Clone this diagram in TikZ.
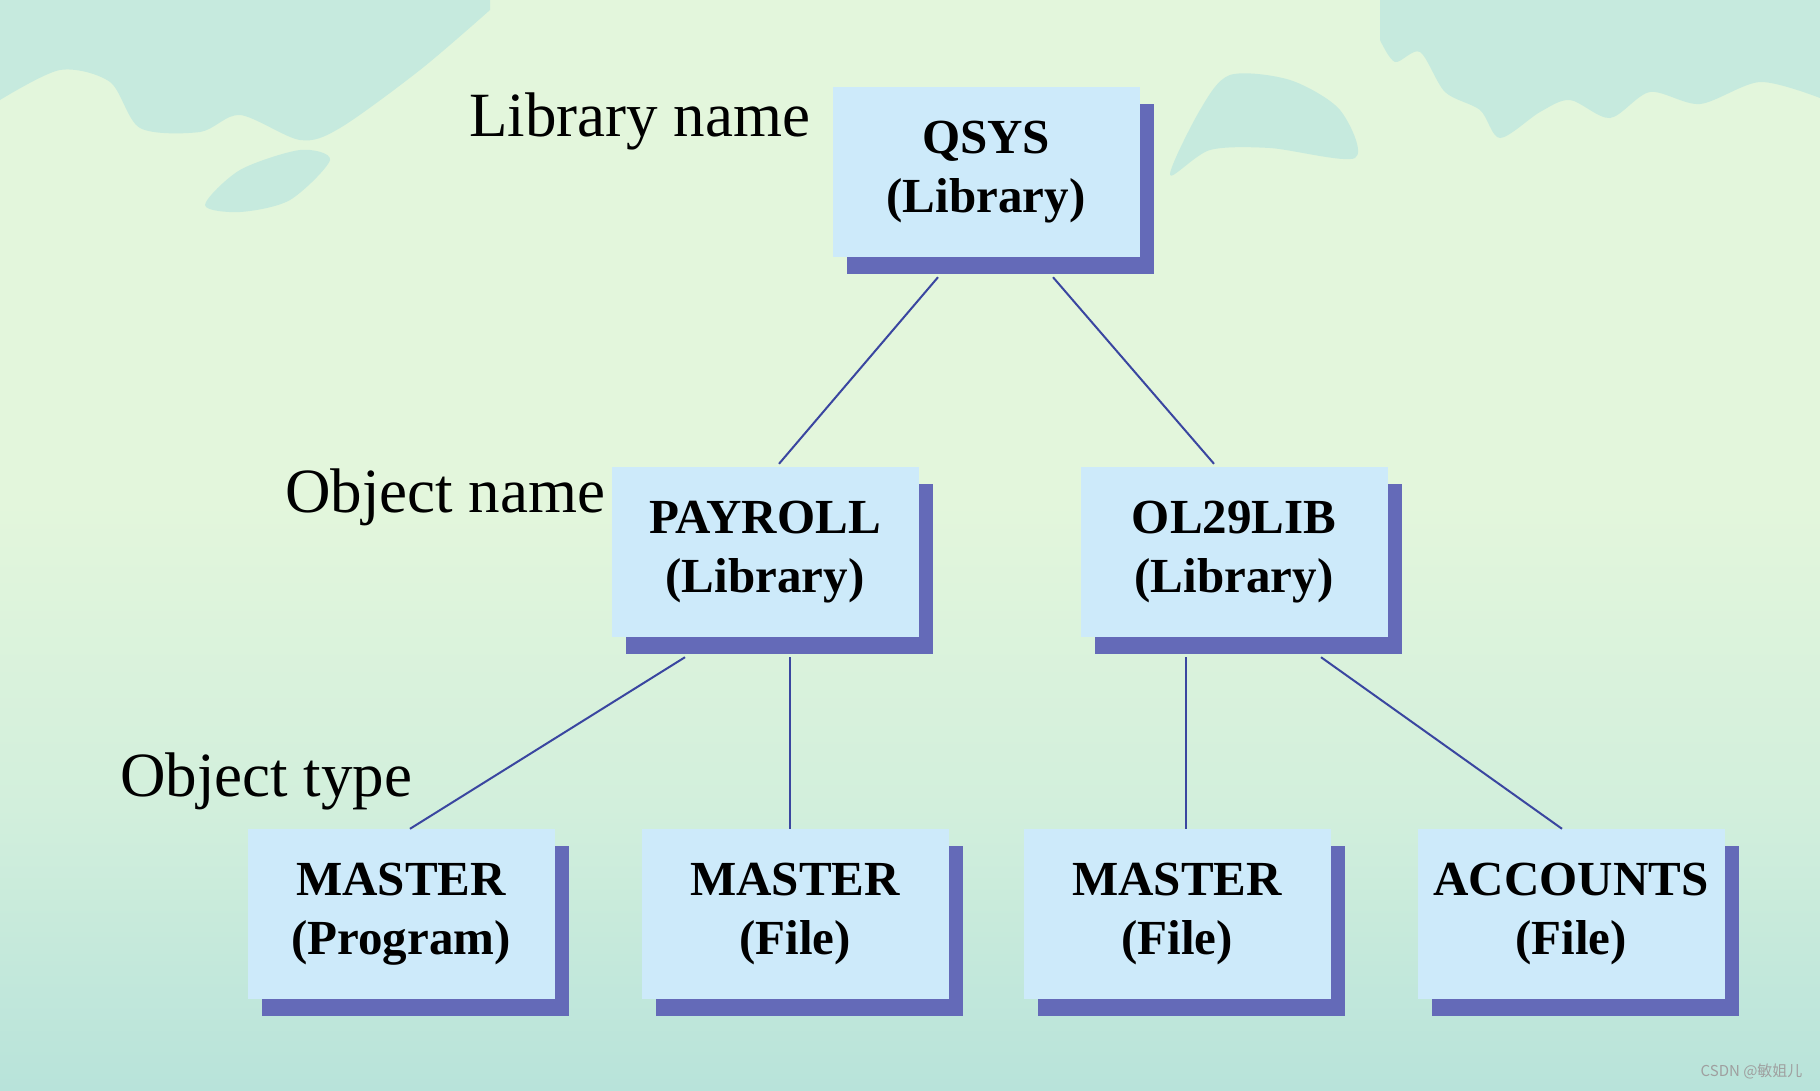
\documentclass[tikz,border=0pt]{standalone}
\usepackage{fontspec}
\setmainfont{Liberation Serif}
\newfontfamily\cjk{Noto Sans CJK SC}
\usetikzlibrary{calc,shadows}

\definecolor{boxblue}{RGB}{205,234,250}
\definecolor{shadowblue}{RGB}{100,106,184}
\definecolor{linkblue}{RGB}{58,70,160}
\definecolor{bgtop}{RGB}{198,234,222}
\definecolor{bgpale}{RGB}{227,246,220}
\definecolor{bglow}{RGB}{210,239,220}
\definecolor{bgbot}{RGB}{184,227,218}

\pgfdeclareverticalshading{skybg}{100bp}{color(0bp)=(bgbot); color(25bp)=(bgbot);
  color(38bp)=(bglow); color(52bp)=(bgpale); color(68bp)=(bgpale); color(75bp)=(bgpale); color(100bp)=(bgpale)}

\tikzset{
  objbox/.style={fill=boxblue, minimum width=307, minimum height=170, inner sep=0pt,
    align=center, font=\fontsize{49}{59}\selectfont\bfseries,
    drop shadow={shadow xshift=14pt, shadow yshift=-17pt, opacity=1, fill=shadowblue}},
  tag/.style={anchor=base west, inner sep=0pt, font=\fontsize{63}{75}\selectfont},
  link/.style={draw=linkblue, line width=2pt}
}

\begin{document}
\begin{tikzpicture}[x=1pt,y=-1pt]
\useasboundingbox (0,0) rectangle (1820,1090);
%%Background
\shade[shading=skybg] (0,0) rectangle (1820,1090);
\fill[bgtop] (0,0) -- plot[smooth] coordinates {(0,100) (60,70) (110,82) (140,128) (200,132)
  (240,115) (300,140) (340,128) (420,70) (490,10)} -- (490,0) -- cycle;
\fill[bgtop] plot[smooth cycle] coordinates {(205,205) (240,170) (300,150) (330,160) (290,200) (240,212)};
\fill[bgtop] plot[smooth cycle] coordinates {(1170,175) (1210,150) (1270,148) (1355,158) (1340,110)
  (1290,80) (1230,75) (1200,110)};
\fill[bgtop] (1380,0) -- plot[smooth] coordinates {(1380,40) (1395,62) (1420,52) (1445,92) (1480,110)
  (1500,138) (1540,112) (1570,100) (1610,118) (1650,92) (1700,104) (1760,82) (1820,98)} -- (1820,0) -- cycle;

%%Boxes
\node[objbox] (qsys) at (986,172) {QSYS\\(Library)};
\node[objbox] (payroll) at (765,552) {PAYROLL\\(Library)};
\node[objbox] (ol29lib) at (1234,552) {OL29LIB\\(Library)};
\node[objbox] (mprogram) at (401,914) {MASTER\\(Program)};
\node[objbox] (mfilea) at (795,914) {MASTER\\(File)};
\node[objbox] (mfileb) at (1177,914) {MASTER\\(File)};
\node[objbox] (accounts) at (1571,914) {ACCOUNTS\\(File)};

%%Connectors
\draw[link] ($(qsys.south)+(-48,20)$) -- ($(payroll.north)+(14,-3)$);
\draw[link] ($(qsys.south)+(67,20)$) -- ($(ol29lib.north)+(-20,-3)$);
\draw[link] ($(payroll.south)+(-80,20)$) -- ($(mprogram.north)+(9,0)$);
\coordinate (pdown) at ($(payroll.south)+(25,20)$);
\draw[link] (pdown) -- (pdown |- mfilea.north);
\coordinate (odown) at ($(ol29lib.south)+(-48,20)$);
\draw[link] (odown) -- (odown |- mfileb.north);
\draw[link] ($(ol29lib.south)+(87,20)$) -- ($(accounts.north)+(-9,0)$);

%%Labels
\node[tag] (libname) at (469,136) {Library name};
\node[tag] (objname) at (285,512) {Object name};
\node[tag] (objtype) at (120,796) {Object type};
\node[anchor=east, text=gray!75, font=\cjk\fontsize{15}{18}\selectfont] (mark) at (1806,1071) {CSDN @敏姐儿};
\end{tikzpicture}
\end{document}
